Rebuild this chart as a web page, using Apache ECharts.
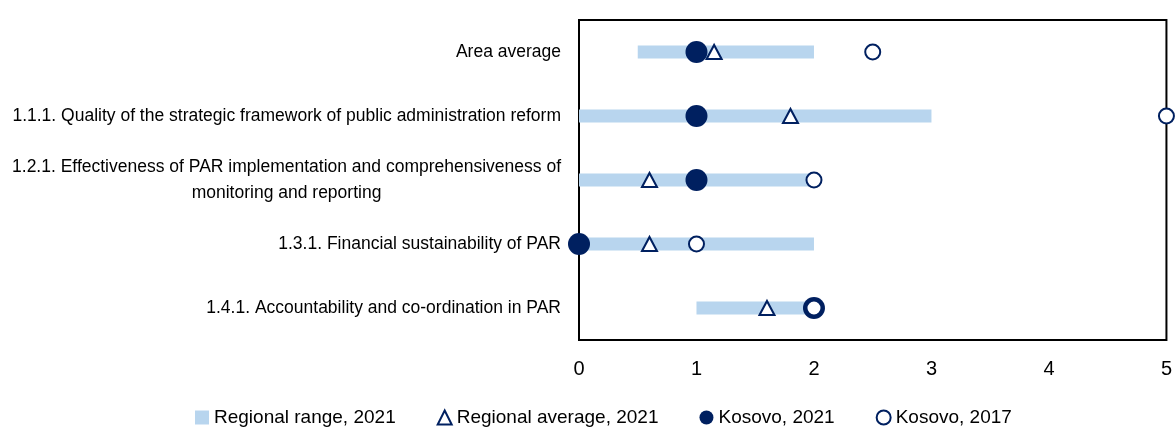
<!DOCTYPE html>
<html>
<head>
<meta charset="utf-8">
<title>PAR indicators</title>
<script src="https://cdn.jsdelivr.net/npm/echarts@6/dist/echarts.min.js"></script>
<style>
  html, body { margin: 0; padding: 0; background: #fff; }
  #chart { width: 1175px; height: 433px; }
</style>
</head>
<body>
<div id="chart"></div>
<script>
const categories = [
  "Area average",
  "1.1.1. Quality of the strategic framework of public administration reform",
  "1.2.1. Effectiveness of PAR implementation and comprehensiveness of\nmonitoring and reporting",
  "1.3.1. Financial sustainability of PAR",
  "1.4.1. Accountability and co-ordination in PAR"
];
const rangeMin = [0.5, 0, 0, 0, 1];
const rangeMax = [2, 3, 2, 2, 2];
const regionalAvg = [1.15, 1.8, 0.6, 0.6, 1.6];
const kosovo2021 = [1, 1, 1, 0, 2];
const kosovo2017 = [2.5, 5, 2, 1, 2];
const xTicks = [0, 1, 2, 3, 4, 5];

const navy = "#002060";
const lightBlue = "#b8d5ee";
const font = "'Liberation Sans Narrow', 'Arial Narrow', 'Liberation Sans', sans-serif";

const chart = echarts.init(document.getElementById("chart"));

const option = {
  animation: false,
  textStyle: { fontFamily: font },
  grid: {
    left: 579,
    right: 4,
    top: 20,
    bottom: 93,
    show: true,
    borderColor: "#000",
    borderWidth: 2
  },
  legend: {
    bottom: 1,
    left: 190,
    itemGap: 41,
    itemWidth: 14,
    itemHeight: 14,
    textStyle: { fontFamily: font, fontSize: 19, color: "#000" },
    data: [
      { name: "Regional range, 2021", icon: "rect" },
      "Regional average, 2021",
      "Kosovo, 2021",
      "Kosovo, 2017"
    ]
  },
  xAxis: {
    type: "value",
    min: xTicks[0],
    max: xTicks[xTicks.length - 1],
    interval: 1,
    axisLine: { show: false },
    axisTick: { show: false },
    splitLine: { show: false },
    axisLabel: {
      margin: 19,
      fontSize: 20,
      color: "#000",
      fontFamily: font
    }
  },
  yAxis: {
    type: "category",
    inverse: true,
    data: categories,
    axisLine: { show: false },
    axisTick: { show: false },
    axisLabel: {
      margin: 18,
      fontSize: 17.5,
      color: "#000",
      fontFamily: font,
      lineHeight: 26,
      formatter: function (v) {
        return v.split("\n").map(function (s) { return "{c|" + s + "}"; }).join("\n");
      },
      rich: {
        c: { align: "center", fontSize: 17.5, lineHeight: 26, fontFamily: font, color: "#000" }
      }
    }
  },
  series: [
    {
      name: "base",
      type: "bar",
      stack: "range",
      barWidth: 13,
      silent: true,
      itemStyle: { color: "transparent" },
      data: rangeMin
    },
    {
      name: "Regional range, 2021",
      type: "bar",
      stack: "range",
      barWidth: 13,
      itemStyle: { color: lightBlue, borderRadius: 0 },
      data: rangeMax.map(function (m, i) { return m - rangeMin[i]; })
    },
    {
      name: "Kosovo, 2021",
      type: "scatter",
      symbol: "circle",
      symbolSize: 22,
      z: 3,
      itemStyle: { color: navy, opacity: 1 },
      data: kosovo2021.map(function (v, i) { return [v, i]; })
    },
    {
      name: "Regional average, 2021",
      type: "scatter",
      symbol: "triangle",
      symbolSize: [15, 14],
      z: 4,
      itemStyle: { color: "#fff", borderColor: navy, borderWidth: 2, opacity: 1 },
      data: regionalAvg.map(function (v, i) { return [v, i]; })
    },
    {
      name: "Kosovo, 2017",
      type: "scatter",
      symbol: "circle",
      symbolSize: 15,
      z: 5,
      itemStyle: { color: "#fff", borderColor: navy, borderWidth: 2, opacity: 1 },
      data: kosovo2017.map(function (v, i) { return [v, i]; })
    }
  ]
};

chart.setOption(option);
</script>
</body>
</html>
